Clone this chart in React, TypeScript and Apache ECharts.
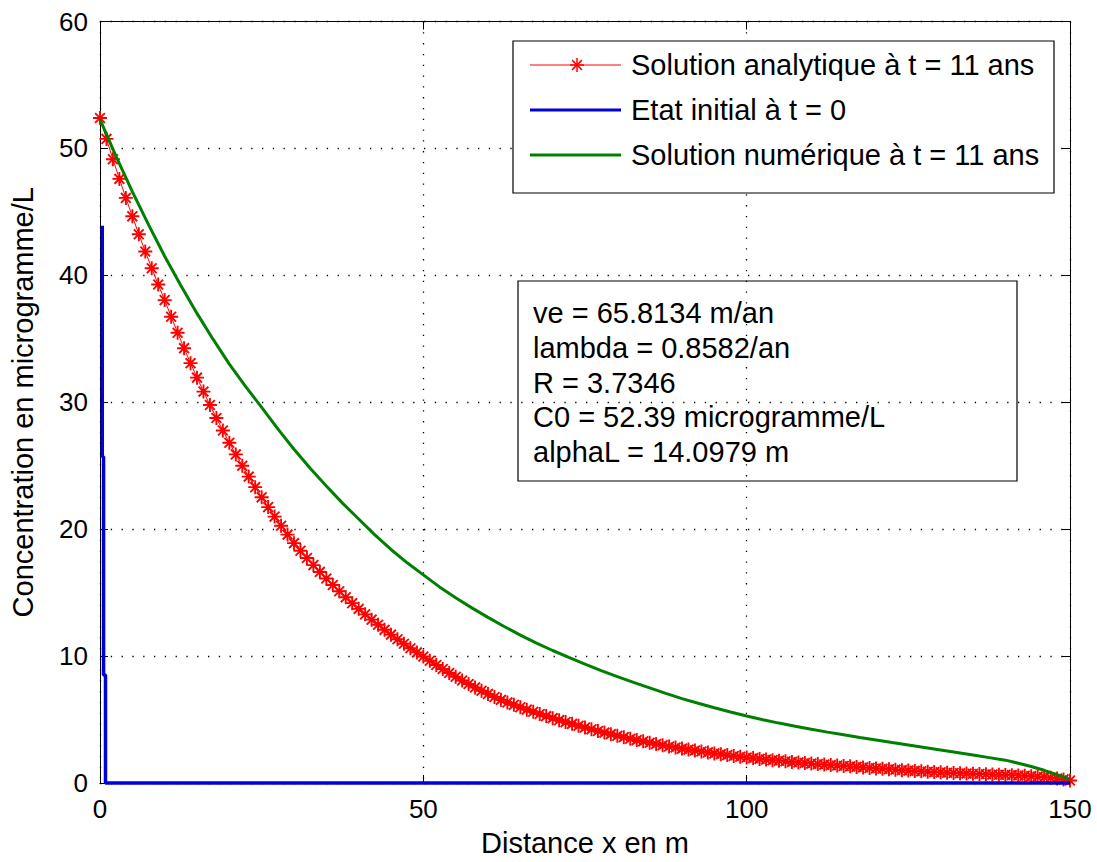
import React, { useEffect, useRef } from "react";
import * as echarts from "echarts";

// ---- data ----
const RED_X_START = 0;
const RED_X_STEP = 1;
const RED_Y = [
  52.4, 50.75, 49.15, 47.6, 46.1, 44.65, 43.24, 41.88, 40.56, 39.28, 38.05,
  36.74, 35.48, 34.26, 33.08, 31.94, 30.84, 29.78, 28.76, 27.77, 26.81,
  25.89, 25.0, 24.14, 23.31, 22.51, 21.74, 20.99, 20.27, 19.57, 18.9,
  18.3, 17.73, 17.17, 16.63, 16.11, 15.6, 15.11, 14.63, 14.17, 13.72,
  13.29, 12.87, 12.47, 12.07, 11.69, 11.33, 10.97, 10.62, 10.29, 9.97,
  9.63, 9.3, 8.98, 8.67, 8.37, 8.08, 7.8, 7.53, 7.27, 7.02,
  6.78, 6.55, 6.35, 6.16, 5.97, 5.78, 5.61, 5.44, 5.27, 5.11,
  4.95, 4.8, 4.66, 4.51, 4.37, 4.23, 4.1, 3.97, 3.85, 3.72,
  3.61, 3.49, 3.38, 3.28, 3.17, 3.07, 2.98, 2.88, 2.8, 2.71,
  2.63, 2.56, 2.48, 2.41, 2.33, 2.27, 2.2, 2.13, 2.07, 2.01,
  1.96, 1.9, 1.85, 1.8, 1.76, 1.71, 1.66, 1.62, 1.58, 1.53,
  1.49, 1.45, 1.41, 1.38, 1.34, 1.31, 1.27, 1.23, 1.19, 1.15,
  1.12, 1.08, 1.05, 1.01, 0.98, 0.95, 0.92, 0.89, 0.86, 0.84,
  0.81, 0.79, 0.77, 0.75, 0.73, 0.71, 0.69, 0.67, 0.65, 0.64,
  0.62, 0.6, 0.57, 0.54, 0.5, 0.46, 0.41, 0.35, 0.28, 0.2,
];

const BLUE_X = [0.35, 0.35, 0.55, 0.55, 0.85, 0.85, 150];
const BLUE_Y = [43.9, 25.7, 25.7, 8.5, 8.5, 0, 0];

const GREEN_X = [
  0, 2.5, 5, 7.5, 10, 12.5, 15, 17.5, 20, 22.5, 25, 27.5, 30, 32.5, 35, 37.5,
  40, 42.5, 45, 47.5, 50, 52.5, 55, 57.5, 60, 62.5, 65, 67.5, 70, 72.5, 75,
  77.5, 80, 82.5, 85, 87.5, 90, 92.5, 95, 97.5, 100, 102.5, 105, 107.5, 110,
  112.5, 115, 117.5, 120, 122.5, 125, 127.5, 130, 132.5, 135, 137.5, 140, 142,
  144, 146, 148, 150,
];
const GREEN_Y = [
  52.3, 49.35, 46.6, 44.0, 41.5, 39.2, 37.0, 34.95, 33.0, 31.25, 29.6, 27.9,
  26.3, 24.8, 23.4, 22.05, 20.8, 19.55, 18.4, 17.35, 16.4, 15.45, 14.6, 13.8,
  13.05, 12.33, 11.65, 11.02, 10.44, 9.89, 9.36, 8.86, 8.38, 7.93, 7.5, 7.06,
  6.65, 6.28, 5.93, 5.6, 5.28, 4.99, 4.72, 4.47, 4.23, 4.01, 3.8, 3.59, 3.39,
  3.19, 3.0, 2.8, 2.6, 2.4, 2.2, 2.0, 1.8, 1.56, 1.3, 1.0, 0.65, 0.3,
];

const LEGEND_LABELS = [
  "Solution analytique à t = 11 ans",
  "Etat initial à t = 0",
  "Solution numérique à t = 11 ans",
];
const INFO_LINES = [
  "ve = 65.8134 m/an",
  "lambda = 0.8582/an",
  "R = 3.7346",
  "C0 = 52.39 microgramme/L",
  "alphaL = 14.0979 m",
];
const X_NAME = "Distance x en m";
const Y_NAME = "Concentration en microgramme/L";
const X_MIN = 0, X_MAX = 150, X_INTERVAL = 50;
const Y_MIN = 0, Y_MAX = 60, Y_INTERVAL = 10;

// ---- style ----
const RED = "#ff0000";
const BLUE = "#0000d8";
const GREEN = "#008000";
const FONT = "'Liberation Sans', Arial, Helvetica, sans-serif";
const FS = 29;
const FS_TICK = 26;
const STAR = "path://M0,5L10,5M5,0L5,10M1.5,1.5L8.5,8.5M8.5,1.5L1.5,8.5";

function starGroup(cx: number, cy: number, r: number, color: string) {
  const d = r * 0.7;
  const ls = { stroke: color, lineWidth: 1.5 };
  return {
    type: "group",
    children: [
      { type: "line", shape: { x1: cx - r, y1: cy, x2: cx + r, y2: cy }, style: ls },
      { type: "line", shape: { x1: cx, y1: cy - r, x2: cx, y2: cy + r }, style: ls },
      { type: "line", shape: { x1: cx - d, y1: cy - d, x2: cx + d, y2: cy + d }, style: ls },
      { type: "line", shape: { x1: cx + d, y1: cy - d, x2: cx - d, y2: cy + d }, style: ls },
    ],
  };
}

export default function App() {
  const ref = useRef<HTMLDivElement>(null);
  useEffect(() => {
    if (!ref.current) return;
    const chart = echarts.init(ref.current, null, { renderer: "svg" });

    const redData = RED_Y.map((v, i) => [RED_X_START + i * RED_X_STEP, v]);
    const blueData = BLUE_X.map((x, i) => [x, BLUE_Y[i]]);
    const greenData = GREEN_X.map((x, i) => [x, GREEN_Y[i]]);

    const gridLine = { show: true, lineStyle: { color: "#000", width: 1.3, type: [1.3, 9.5] } };
    const axisLine = { show: true, onZero: false, lineStyle: { color: "#000", width: 1 } };
    const tick = { show: true, inside: true, length: 8, lineStyle: { color: "#000", width: 1 } };
    const lblStyle = { color: "#000", fontFamily: FONT, fontSize: FS_TICK };

    // legend graphic
    const lgX = 513, lgY = 41, lgW = 541, lgH = 152;
    const rows = [65, 110, 155];
    const legendEls: any[] = [
      { type: "rect", shape: { x: lgX, y: lgY, width: lgW, height: lgH }, style: { fill: "#fff", stroke: "#000", lineWidth: 1.2 }, z: 100 },
    ];
    const lineColors = [RED, BLUE, GREEN];
    const lineWidths = [1, 3, 3];
    rows.forEach((ry, i) => {
      legendEls.push({
        type: "line",
        shape: { x1: 530, y1: ry, x2: 621, y2: ry },
        style: { stroke: lineColors[i], lineWidth: lineWidths[i] },
        z: 101,
      });
      legendEls.push({
        type: "text",
        x: 631,
        y: ry,
        style: { text: LEGEND_LABELS[i], fill: "#000", font: `${FS}px ${FONT}`, textVerticalAlign: "middle", textAlign: "left" },
        z: 101,
      });
    });
    const st: any = starGroup(577, rows[0], 7, RED);
    st.z = 102;
    st.children.forEach((c: any) => (c.z = 102));
    legendEls.push(st);

    // info box
    const infoEls: any[] = [
      { type: "rect", shape: { x: 518, y: 281, width: 499, height: 200 }, style: { fill: "transparent", stroke: "#000", lineWidth: 1.2 }, z: 100 },
    ];
    INFO_LINES.forEach((t, i) => {
      infoEls.push({
        type: "text",
        x: 533,
        y: 313 + i * 34.8,
        style: { text: t, fill: "#000", font: `${FS}px ${FONT}`, textVerticalAlign: "middle", textAlign: "left" },
        z: 101,
      });
    });

    chart.setOption({
      animation: false,
      backgroundColor: "#fff",
      grid: { left: 98, right: 27, top: 21.5, bottom: 77, show: false },
      xAxis: [
        {
          type: "value",
          min: X_MIN,
          max: X_MAX,
          interval: X_INTERVAL,
          position: "bottom",
          name: X_NAME,
          nameLocation: "middle",
          nameGap: 45,
          nameTextStyle: { color: "#000", fontFamily: FONT, fontSize: FS },
          axisLine,
          axisTick: tick,
          axisLabel: { ...lblStyle, margin: 13 },
          splitLine: gridLine,
        },
        {
          type: "value",
          min: X_MIN,
          max: X_MAX,
          interval: X_INTERVAL,
          position: "top",
          axisLine,
          axisTick: tick,
          axisLabel: { show: false },
          splitLine: { show: false },
        },
      ],
      yAxis: [
        {
          type: "value",
          min: Y_MIN,
          max: Y_MAX,
          interval: Y_INTERVAL,
          position: "left",
          name: Y_NAME,
          nameLocation: "middle",
          nameGap: 63,
          nameRotate: 90,
          nameTextStyle: { color: "#000", fontFamily: FONT, fontSize: FS },
          axisLine,
          axisTick: tick,
          axisLabel: { ...lblStyle, margin: 12 },
          splitLine: gridLine,
        },
        {
          type: "value",
          min: Y_MIN,
          max: Y_MAX,
          interval: Y_INTERVAL,
          position: "right",
          axisLine,
          axisTick: tick,
          axisLabel: { show: false },
          splitLine: { show: false },
        },
      ],
      series: [
        {
          name: LEGEND_LABELS[0],
          type: "line",
          data: redData,
          symbol: STAR,
          symbolSize: 14,
          showAllSymbol: true,
          clip: false,
          lineStyle: { color: RED, width: 1 },
          itemStyle: { color: RED, borderColor: RED, borderWidth: 1.9 },
          z: 3,
        },
        {
          name: LEGEND_LABELS[1],
          type: "line",
          data: blueData,
          symbol: "none",
          clip: false,
          lineStyle: { color: BLUE, width: 3.5 },
          z: 4,
        },
        {
          name: LEGEND_LABELS[2],
          type: "line",
          data: greenData,
          symbol: "none",
          clip: false,
          lineStyle: { color: GREEN, width: 3 },
          z: 5,
        },
      ],
      graphic: [...legendEls, ...infoEls],
    });
    return () => chart.dispose();
  }, []);
  return (
    <div
      ref={ref}
      style={{ position: "fixed", left: 0, top: 0, width: 1097, height: 862, background: "#fff" }}
    />
  );
}
